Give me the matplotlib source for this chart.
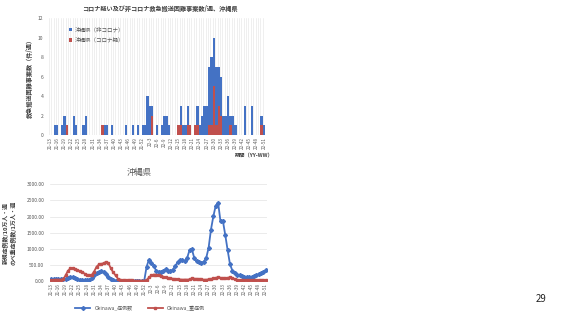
import matplotlib
matplotlib.use("Agg")
import matplotlib.pyplot as plt
import numpy as np

plt.rcParams['font.family'] = ['Noto Sans CJK JP', 'DejaVu Sans']

# ---- data ----
weeks = [f"21-{w}" for w in range(13, 53)] + [f"22-{w}" for w in range(1, 52)]

# top chart: weekly counts (件/週)
non_covid = [0, 0, 1, 1, 0, 1, 2, 0, 0, 0,
             2, 1, 0, 0, 1, 2, 0, 0, 0, 0,
             0, 0, 0, 1, 1, 0, 1, 0, 0, 0,
             0, 0, 1, 0, 0, 1, 0, 1, 0, 1,
             1, 4, 3, 1, 0, 1, 0, 1, 2, 2,
             1, 0, 0, 0, 0, 2, 1, 1, 2, 0,
             0, 0, 2, 1, 2, 3, 3, 6, 7, 5,
             6, 4, 4, 2, 2, 4, 1, 2, 1, 0,
             0, 0, 3, 0, 0, 3, 0, 0, 0, 1,
             1]
covid_susp = [0, 0, 0, 0, 0, 0, 0, 1, 0, 0,
              0, 0, 0, 0, 0, 0, 0, 0, 0, 0,
              0, 0, 1, 0, 0, 0, 0, 0, 0, 0,
              0, 0, 0, 0, 0, 0, 0, 0, 0, 0,
              0, 0, 0, 2, 0, 0, 0, 0, 0, 0,
              0, 0, 0, 0, 1, 1, 0, 0, 1, 1,
              0, 1, 1, 0, 0, 0, 0, 1, 1, 5,
              1, 3, 2, 0, 0, 0, 1, 0, 0, 0,
              0, 0, 0, 0, 0, 0, 0, 0, 0, 1,
              0]

# bottom chart
cases = [60, 70, 70, 65, 60, 60, 70, 110, 130, 120,
         90, 60, 45, 30, 25, 30, 50, 100, 180, 250,
         290, 310, 290, 220, 140, 80, 40, 20, 10, 8,
         8, 6, 6, 5, 5, 5, 5, 5, 8, 10,
         450, 670, 580, 480, 330, 290, 290, 320, 380, 320,
         310, 360, 470, 590, 650, 660, 620, 720, 960, 990,
         720, 620, 610, 570, 610, 720, 1030, 1600, 2010, 2340,
         2430, 1850, 1870, 1430, 960, 520, 330, 260, 210, 180,
         150, 130, 120, 120, 130, 150, 180, 220, 260, 300,
         340]
severe = [40, 45, 50, 50, 50, 60, 180, 320, 400, 410,
          380, 350, 310, 280, 240, 200, 180, 200, 300, 450,
          520, 540, 560, 600, 560, 400, 280, 180, 80, 50,
          40, 30, 30, 25, 25, 20, 20, 20, 20, 20,
          40, 120, 180, 210, 200, 180, 160, 140, 120, 100,
          90, 80, 70, 60, 55, 50, 55, 50, 60, 90,
          80, 80, 70, 60, 50, 50, 60, 70, 90, 110,
          120, 110, 100, 100, 110, 120, 100, 70, 50, 40,
          30, 30, 30, 30, 35, 35, 35, 30, 30, 25,
          25]

BLUE = '#4472C4'
RED = '#C0504D'
GREY = '#595959'

W, H = 569, 320
fig = plt.figure(figsize=(W / 100, H / 100), dpi=100)

def fx(px):
    return px / W

def fy(py):
    return 1 - py / H

x = np.arange(len(weeks))
tick_idx = x[::3]
tick_lab = [weeks[i] for i in tick_idx]

# ---------------- top chart ----------------
ax1 = fig.add_axes([fx(49), fy(135), fx(265) - fx(49), fy(18.3) - fy(135)])
b_red = ax1.bar(x, covid_susp, width=1.0, color=RED, zorder=3)
b_blue = ax1.bar(x, non_covid, width=1.0, bottom=covid_susp, color=BLUE, zorder=3)
ax1.set_xlim(-0.5, len(weeks) - 0.5)
ax1.set_ylim(0, 12)
ax1.set_yticks(range(0, 13, 2))
ax1.set_xticks(tick_idx)
ax1.set_xticklabels(tick_lab, rotation=90, fontsize=3.3, color=GREY)
ax1.set_xticks(np.arange(-0.5, len(weeks), 1), minor=True)
ax1.grid(True, which='minor', axis='x', color='#e3e3e3', lw=0.4, zorder=0)
ax1.tick_params(axis='y', labelsize=3.6, colors=GREY, length=0, pad=4)
ax1.tick_params(axis='x', which='both', length=0, pad=1.5)
for s in ax1.spines.values():
    s.set_visible(False)
ax1.axhline(0, color='#bfbfbf', lw=0.5, zorder=4)
ax1.set_ylabel('救急搬送困難事案数（件/週）', fontsize=4.4, fontweight='bold',
               color='#404040')
ax1.yaxis.set_label_coords(-0.074, 0.5)
ax1.legend([b_blue, b_red], ['沖縄県（非コロナ）', '沖縄県（コロナ疑）'],
           loc='upper left', bbox_to_anchor=(0.07, 0.97),
           fontsize=4.0, frameon=False, handlelength=0.6, handleheight=0.6,
           handletextpad=0.4, labelspacing=0.9, labelcolor=GREY)
fig.text(fx(160), fy(8), 'コロナ疑い及び非コロナ救急搬送困難事案数/週、沖縄県',
         ha='center', va='center', fontsize=4.4, fontweight='bold', color='#404040')
fig.text(fx(254), fy(156), '期間（YY-WW）', ha='center', va='center',
         fontsize=3.8, fontweight='bold', color='#404040')

# ---------------- bottom chart ----------------
ax2 = fig.add_axes([fx(50), fy(281.3), fx(267) - fx(50), fy(184.3) - fy(281.3)])
l1, = ax2.plot(x, cases, color=BLUE, lw=1.3, marker='D', ms=2.0, zorder=3)
l2, = ax2.plot(x, severe, color=RED, lw=1.3, marker='s', ms=2.0, zorder=3)
ax2.set_xlim(-0.5, len(weeks) - 0.5)
ax2.set_ylim(0, 3000)
ax2.set_yticks(range(0, 3001, 500))
ax2.set_yticklabels([f"{v:.2f}" for v in range(0, 3001, 500)])
ax2.set_xticks(tick_idx)
ax2.set_xticklabels(tick_lab, rotation=90, fontsize=3.3, color=GREY)
ax2.grid(True, axis='y', color='#e3e3e3', lw=0.5, zorder=0)
ax2.tick_params(axis='y', labelsize=3.6, colors=GREY, length=0, pad=4)
ax2.tick_params(axis='x', length=0, pad=1.5)
for s in ax2.spines.values():
    s.set_visible(False)
ax2.axhline(0, color='#d9d9d9', lw=0.5, zorder=1)
ax2.set_ylabel('新規症例数/10万人・週\nのべ重症例数/1万人・週', fontsize=4.2,
               fontweight='bold', color='#404040', linespacing=1.3)
ax2.yaxis.set_label_coords(-0.155, 0.5)
fig.text(fx(139), fy(172), '沖縄県', ha='center', va='center', fontsize=6,
         color=GREY)
fig.legend([l1, l2], ['Okinawa_症例数', 'Okinawa_重症例'], loc='center',
           bbox_to_anchor=(fx(140), fy(308)), ncol=2, fontsize=3.6, frameon=False,
           handlelength=3, columnspacing=3, labelcolor=GREY)

fig.text(fx(541), fy(299), '29', ha='center', va='center', fontsize=7, color='#222222')

fig.savefig('out.png', dpi=100)
